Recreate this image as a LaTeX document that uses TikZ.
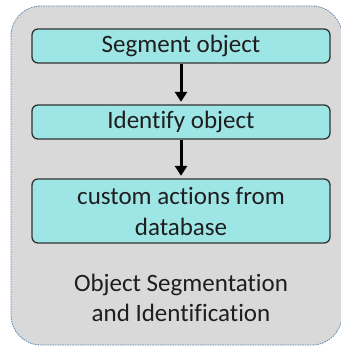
\documentclass[tikz,border=0pt]{standalone}
\usepackage{fontspec}
\setmainfont{Carlito}[Ligatures=NoCommon]
\usetikzlibrary{arrows.meta}
\definecolor{panelgray}{HTML}{D9D9D9}
\definecolor{panelline}{HTML}{5B86B3}
\definecolor{stepfill}{HTML}{9EE6E6}
\definecolor{stepline}{HTML}{333333}
\definecolor{inktext}{HTML}{1E1E1E}
\begin{document}
\begin{tikzpicture}[x=1pt,y=-1pt,
  stepbox/.style={draw=stepline, line width=1.3pt, fill=stepfill, rounded corners=6pt,
    minimum width=298pt, inner sep=0pt, align=center, text=inktext,
    font=\fontsize{25}{31}\selectfont},
  flow/.style={line width=3pt, -{Triangle[width=12pt,length=10pt]}, shorten >=2.5pt}]
  \useasboundingbox (0,0) rectangle (340,347);
  % dashed outer panel
  \draw[panelline, fill=panelgray, line width=0.8pt, dash pattern=on 1.5pt off 1pt, rounded corners=30pt]
    (11,6) rectangle (342,345);
  % processing steps
  \node[stepbox, minimum height=34pt, text height=15pt, text depth=1pt] (seg) at (181,46) {Segment object};
  \node[stepbox, minimum height=34pt, text height=14pt, text depth=1pt] (ident) at (181,122) {Identify object};
  \node[stepbox, minimum height=64pt] (act) at (181,211) {custom actions from\\database};
  % panel caption
  \node[align=center, text=inktext, font=\fontsize{25}{30}\selectfont] (cap) at (181,298)
    {Object Segmentation\\and Identification};
  % connectors
  \draw[flow] (seg.south) -- (ident.north);
  \draw[flow] (ident.south) -- (act.north);
\end{tikzpicture}
\end{document}
